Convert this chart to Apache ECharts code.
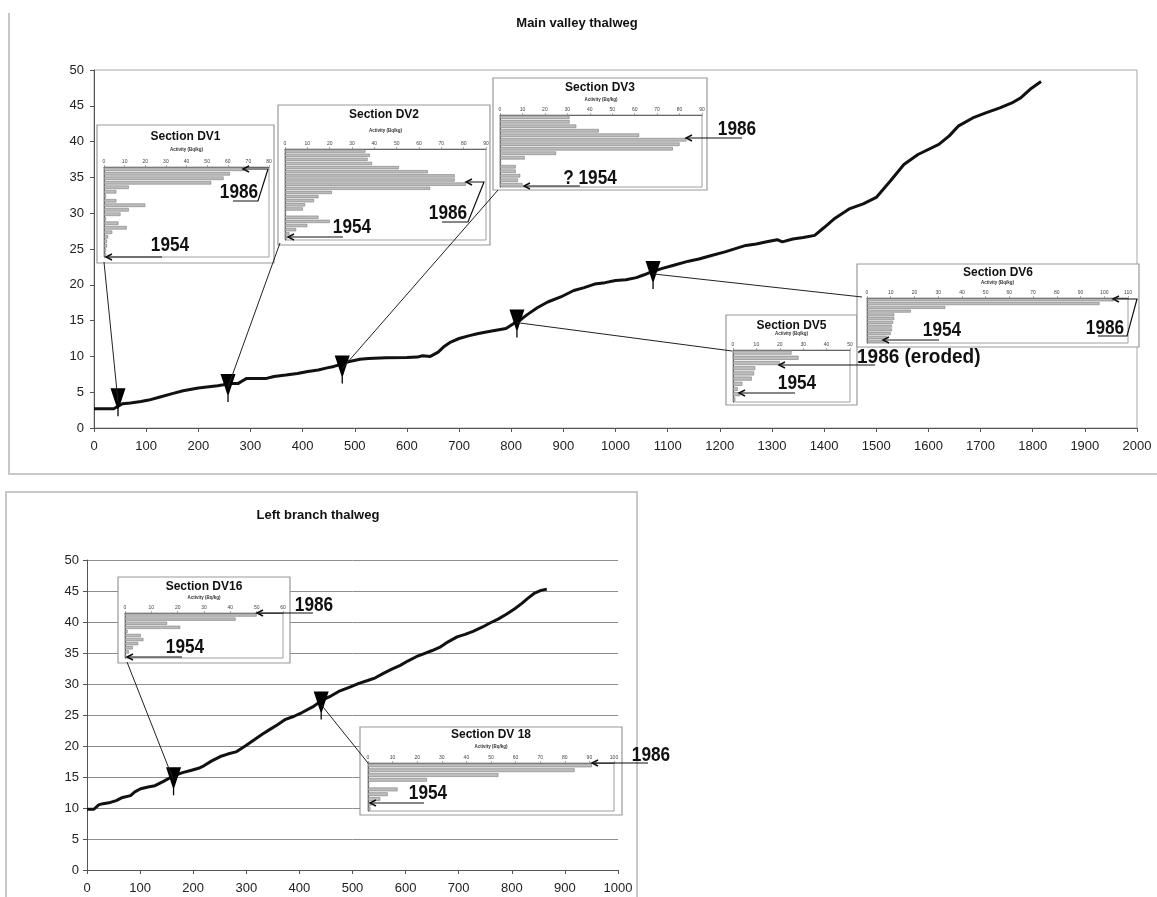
<!DOCTYPE html>
<html><head><meta charset="utf-8">
<script src="https://cdn.jsdelivr.net/npm/echarts/dist/echarts.min.js"></script>
<style>html,body{margin:0;padding:0;background:#fff}#c{width:1157px;height:897px}</style>
</head><body><div id="c"></div>
<script>
// ---------- DATA ----------
const mainDistance = [0,20,38,45,55,70,90,105,125,150,171,200,237,262,276,285,292,310,329,345,368,390,410,430,447,460,474,490,510,526,560,600,620,630,645,660,670,684,700,720,737,760,790,805,816,830,850,870,895,920,940,960,980,1000,1020,1040,1055,1072,1090,1110,1140,1160,1184,1210,1236,1250,1270,1290,1310,1320,1340,1360,1382,1400,1421,1448,1475,1500,1527,1553,1580,1620,1640,1658,1685,1710,1737,1760,1777,1795,1816];
const mainElevation = [2.7,2.7,2.7,3.0,3.4,3.5,3.7,3.9,4.3,4.8,5.2,5.6,5.9,6.2,6.2,6.6,6.9,6.9,6.9,7.2,7.4,7.6,7.9,8.1,8.4,8.6,8.9,9.3,9.6,9.7,9.8,9.85,9.9,10.1,10.0,10.6,11.3,12.0,12.5,12.9,13.2,13.5,13.9,14.6,15.0,15.8,16.8,17.6,18.3,19.2,19.6,20.1,20.3,20.6,20.7,21.0,21.4,21.9,22.3,22.7,23.3,23.6,24.1,24.6,25.2,25.5,25.7,26.0,26.3,26.0,26.4,26.6,26.9,28.0,29.3,30.6,31.3,32.2,34.5,36.8,38.2,39.6,40.8,42.2,43.3,44.0,44.7,45.4,46.1,47.3,48.4];
const branchDistance = [0,13,22,30,44,55,67,82,90,101,115,128,144,163,180,197,210,220,235,251,265,282,298,313,330,343,358,374,390,405,425,443,460,474,495,512,530,543,560,574,590,604,620,635,650,666,680,697,712,727,745,758,775,789,805,819,830,842,855,866];
const branchElevation = [9.8,9.8,10.5,10.7,10.9,11.2,11.7,12.0,12.6,13.1,13.4,13.6,14.3,15.2,15.7,16.1,16.4,16.8,17.6,18.3,18.7,19.1,20.0,20.9,21.9,22.6,23.4,24.3,24.8,25.4,26.3,27.4,28.1,28.8,29.5,30.1,30.6,31.0,31.8,32.4,33.0,33.7,34.4,34.9,35.4,36.0,36.8,37.6,38.0,38.5,39.2,39.8,40.5,41.2,42.1,43.0,43.8,44.6,45.1,45.3];
const mainMarkerDistance = [46, 257, 476, 811, 1072];
const mainMarkerElevation = [4.0, 6.0, 8.6, 15.0, 21.8];
const branchMarkerDistance = [163, 441];
const branchMarkerElevation = [14.8, 27.0];

const dv1Activity = [68,61,58,52,12,6,1,6,20,12,8,1,7,11,4,2,1.5,1.5,1,1];
const dv2Activity = [36,38,37,39,51,64,76,76,81,65,21,15,13,9,8,0.5,15,20,10,5,2,1];
const dv3Activity = [31,31,34,44,62,83,80,77,25,11,0.5,7,7,9,8,10];
const dv5Activity = [25,28,20,9.5,9,8,4,2,3,1];
const dv6Activity = [104,98,33,18.5,11.5,11.5,11,10.5,10.5,10,8.5,7.5];
const dv16Activity = [50,42,16,21,1,6,7,5,3,1.5,0.5];
const dv18Activity = [91,84,53,24,0.5,12,8,5,1.5,1];

const insetTitles = ['Section DV1','Section DV2','Section DV3','Section DV5','Section DV6','Section DV16','Section DV 18'];
const insetAxisMax = [80, 90, 90, 50, 110, 60, 100];
const activityLabel = 'Activity (Bq/kg)';
const chartTitles = ['Main valley thalweg', 'Left branch thalweg'];

// ---------- LAYOUT ----------
const FONT = "'Liberation Sans', Arial, Helvetica, sans-serif";
const insetLayout = [
  {values: dv1Activity,  plot:[104,167,165,90], box:[97,125,177,138], titleY:137, nameY:152},
  {values: dv2Activity,  plot:[285,149,201,91], box:[278,105,212,140], titleY:115, nameY:133},
  {values: dv3Activity,  plot:[500,115,202,72], box:[493,78,214,112], titleY:88, nameY:102},
  {values: dv5Activity,  plot:[733,350,117,52], box:[726,315,131,90], titleY:326, nameY:336},
  {values: dv6Activity,  plot:[867,298,261,45], box:[857,264,282,83], titleY:273, nameY:285},
  {values: dv16Activity, plot:[125,613,158,45], box:[118,577,172,86], titleY:587, nameY:600},
  {values: dv18Activity, plot:[368,763,246,48], box:[360,727,262,88], titleY:735, nameY:749}
];
const insetConnect = [[104,262],[280,243],[498,190],[732,351],[862,297],[127,662],[368,763]];

const yearLabels = [
  ['1986',239,192],['1954',170,245],
  ['1986',448,213],['1954',352,227],
  ['1986',737,129],['? 1954',590,178],
  ['1986 (eroded)',857,357,'left',0.95],['1954',797,383],
  ['1954',942,330],['1986',1105,328],
  ['1986',314,605],['1954',185,647],
  ['1986',651,755],['1954',428,793]
];
const yearArrows = [
  [[233,201],[258,201],[268,169],[243,169]],
  [[162,257],[106,257]],
  [[442,222],[468,222],[484,182],[466,182]],
  [[343,237],[288,237]],
  [[742,138],[686,138]],
  [[580,186],[524,186]],
  [[875,365],[779,365]],
  [[795,393],[739,393]],
  [[939,340],[883,340]],
  [[1098,336],[1127,336],[1137,299],[1113,299]],
  [[313,613],[257,613]],
  [[182,657],[127,657]],
  [[648,763],[592,763]],
  [[424,803],[370,803]]
];

const chart = echarts.init(document.getElementById('c'));

const markerPath = 'path://M0,0 L14,0 L7.6,20 L7.6,27 L6.4,27 L6.4,20 Z';
const plain = v => String(v);

const grids = [
  {left:94, top:70, width:1043, height:358, show:true, borderColor:'#a8a8a8', borderWidth:1, z:0},
  {left:87, top:560, width:531, height:310, show:false, z:0}
];
const xAxes = [
  {gridIndex:0, type:'value', min:0, max:2000, interval:100,
   axisLine:{show:true,onZero:false,lineStyle:{color:'#555',width:1}},
   axisTick:{show:true,length:4,lineStyle:{color:'#555'}},
   axisLabel:{fontSize:13,color:'#222',margin:12,fontFamily:FONT,formatter:plain},
   splitLine:{show:false}},
  {gridIndex:1, type:'value', min:0, max:1000, interval:100,
   axisLine:{show:true,onZero:false,lineStyle:{color:'#555',width:1}},
   axisTick:{show:true,length:4,lineStyle:{color:'#555'}},
   axisLabel:{fontSize:13,color:'#222',margin:12,fontFamily:FONT,formatter:plain},
   splitLine:{show:false}}
];
const yAxes = [
  {gridIndex:0, type:'value', min:0, max:50, interval:5,
   axisLine:{show:true,lineStyle:{color:'#555'}},
   axisTick:{show:true,length:4,lineStyle:{color:'#555'}},
   axisLabel:{fontSize:13,color:'#222',margin:10,fontFamily:FONT},
   splitLine:{show:false}},
  {gridIndex:1, type:'value', min:0, max:50, interval:5,
   axisLine:{show:true,lineStyle:{color:'#555'}},
   axisTick:{show:true,length:4,lineStyle:{color:'#555'}},
   axisLabel:{fontSize:13,color:'#222',margin:8,fontFamily:FONT},
   splitLine:{show:true,lineStyle:{color:'#8c8c8c',width:1}}}
];
const series = [
  {type:'line', xAxisIndex:0, yAxisIndex:0, data: mainDistance.map((d,i)=>[d, mainElevation[i]]),
   showSymbol:false, lineStyle:{color:'#111',width:3}, z:2, silent:true},
  {type:'line', xAxisIndex:1, yAxisIndex:1, data: branchDistance.map((d,i)=>[d, branchElevation[i]]),
   showSymbol:false, lineStyle:{color:'#111',width:3}, z:2, silent:true},
  {type:'scatter', xAxisIndex:0, yAxisIndex:0, data: mainMarkerDistance.map((d,i)=>[d, mainMarkerElevation[i]]),
   symbol:markerPath, symbolSize:[15,28], symbolOffset:[0,3], itemStyle:{color:'#000', opacity:1}, z:3, silent:true},
  {type:'scatter', xAxisIndex:1, yAxisIndex:1, data: branchMarkerDistance.map((d,i)=>[d, branchMarkerElevation[i]]),
   symbol:markerPath, symbolSize:[15,28], symbolOffset:[0,3], itemStyle:{color:'#000', opacity:1}, z:3, silent:true}
];

insetLayout.forEach((ins, k) => {
  const gi = grids.length;
  const [l,t,w,h] = ins.plot;
  grids.push({left:l, top:t, width:w, height:h, show:true, borderColor:'#a0a0a0', borderWidth:1, z:10});
  xAxes.push({gridIndex:gi, type:'value', position:'top', min:0, max:insetAxisMax[k], interval:10, z:11,
    name: activityLabel, nameLocation:'middle', nameGap: t - ins.nameY,
    nameTextStyle:{fontSize:4.5, fontWeight:'bold', color:'#333', fontFamily:FONT},
    axisLine:{show:true,lineStyle:{color:'#666',width:1}},
    axisTick:{show:true,length:2,lineStyle:{color:'#777',width:0.6}},
    axisLabel:{fontSize:5, color:'#444', margin:3, fontFamily:FONT},
    splitLine:{show:false}});
  yAxes.push({gridIndex:gi, type:'category', inverse:true, z:11,
    data: ins.values.map((_,i)=>String(i+1)),
    axisLine:{show:true,lineStyle:{color:'#555',width:1}},
    axisTick:{show:false}, axisLabel:{show:false}});
  series.push({type:'bar', xAxisIndex:gi, yAxisIndex:gi, data: ins.values, z:12,
    barCategoryGap:'22%', silent:true,
    itemStyle:{color:'#bdbdbd', borderColor:'#7c7c7c', borderWidth:0.6}});
});

chart.setOption({
  animation:false,
  backgroundColor:'#fff',
  grid: grids, xAxis: xAxes, yAxis: yAxes, series: series
});

// ---------- ANNOTATIONS ----------
const els = [];
els.push({type:'polyline', z:1, shape:{points:[[9,13],[9,474],[1157,474]]}, style:{stroke:'#c8c8c8', lineWidth:2, fill:null}});
els.push({type:'rect', z:1, shape:{x:6,y:492,width:631,height:410}, style:{stroke:'#c8c8c8', lineWidth:2, fill:null}});
els.push({type:'text', z:20, x:577, y:23, style:{text:chartTitles[0], fontSize:13, fontWeight:'bold', fontFamily:FONT, fill:'#111', textAlign:'center', textVerticalAlign:'middle', align:'center', verticalAlign:'middle'}});
els.push({type:'text', z:20, x:318, y:515, style:{text:chartTitles[1], fontSize:13, fontWeight:'bold', fontFamily:FONT, fill:'#111', textAlign:'center', textVerticalAlign:'middle', align:'center', verticalAlign:'middle'}});

insetLayout.forEach((ins,k) => {
  const [bx,by,bw,bh] = ins.box;
  els.push({type:'rect', z:5, shape:{x:bx,y:by,width:bw,height:bh}, style:{fill:'#fff', stroke:'#999', lineWidth:1.2}});
  els.push({type:'text', z:20, x:bx+bw/2, y:ins.titleY, style:{text:insetTitles[k], fontSize:12, fontWeight:'bold', fontFamily:FONT, fill:'#111', textAlign:'center', textVerticalAlign:'middle', align:'center', verticalAlign:'middle'}});
});

const markerPix = mainMarkerDistance.map((d,i)=>chart.convertToPixel({gridIndex:0}, [d, mainMarkerElevation[i]]))
  .concat(branchMarkerDistance.map((d,i)=>chart.convertToPixel({gridIndex:1}, [d, branchMarkerElevation[i]])));
markerPix.forEach((p,i) => {
  els.push({type:'line', z:15, shape:{x1:p[0], y1:p[1]+2, x2:insetConnect[i][0], y2:insetConnect[i][1]}, style:{stroke:'#222', lineWidth:1}});
});

yearLabels.forEach(([t,x,y,al,sx]) => {
  els.push({type:'text', z:20, x:x, y:y, scaleX:sx||0.86, style:{text:t, fontSize:20, fontWeight:'bold', fontFamily:FONT, fill:'#111',
    textAlign: al||'center', align: al||'center', textVerticalAlign:'middle', verticalAlign:'middle'}});
});

yearArrows.forEach(pts => {
  els.push({type:'polyline', z:20, shape:{points:pts}, style:{stroke:'#111', lineWidth:1.2, fill:null}});
  const tip = pts[pts.length-1], prev = pts[pts.length-2];
  const dx = tip[0]-prev[0], dy = tip[1]-prev[1], L = Math.hypot(dx,dy);
  const ux = dx/L, uy = dy/L, nx = -uy, ny = ux;
  els.push({type:'polyline', z:20, shape:{points:[[tip[0]-6*ux+3*nx, tip[1]-6*uy+3*ny],[tip[0],tip[1]],[tip[0]-6*ux-3*nx, tip[1]-6*uy-3*ny]]},
    style:{stroke:'#111', lineWidth:1.5, fill:null}});
});

chart.setOption({graphic:{elements: els}});
</script></body></html>
